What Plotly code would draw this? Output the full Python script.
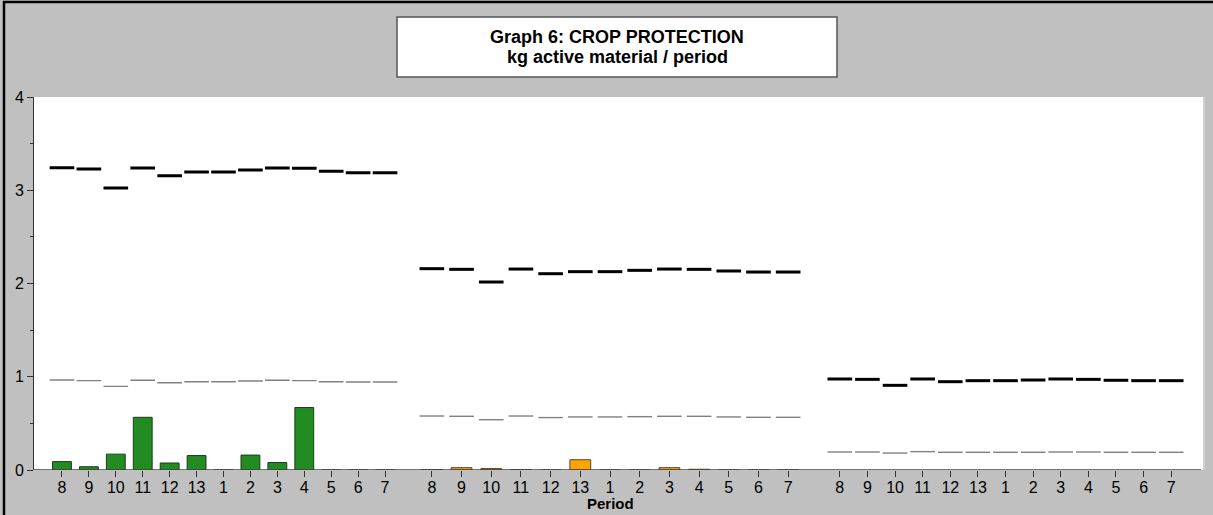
import plotly.graph_objects as go

periods = ["8", "9", "10", "11", "12", "13", "1", "2", "3", "4", "5", "6", "7"]

# Group 1
g1_black = [3.242, 3.228, 3.024, 3.239, 3.156, 3.196, 3.196, 3.217, 3.239, 3.235, 3.203, 3.188, 3.188]
g1_gray = [0.965, 0.958, 0.897, 0.962, 0.936, 0.947, 0.947, 0.954, 0.962, 0.958, 0.947, 0.944, 0.944]
g1_bars = [0.09, 0.035, 0.17, 0.565, 0.075, 0.155, 0.0, 0.16, 0.08, 0.67, 0.0, 0.0, 0.0]

# Group 2
g2_black = [2.159, 2.152, 2.016, 2.155, 2.105, 2.127, 2.127, 2.141, 2.155, 2.152, 2.134, 2.123, 2.123]
g2_gray = [0.579, 0.576, 0.539, 0.579, 0.562, 0.569, 0.569, 0.572, 0.576, 0.576, 0.569, 0.565, 0.565]
g2_bars = [0.005, 0.025, 0.015, 0.005, 0.0, 0.11, 0.0, 0.0, 0.025, 0.008, 0.0, 0.0, 0.0]

# Group 3
g3_black = [0.976, 0.972, 0.908, 0.976, 0.947, 0.958, 0.958, 0.965, 0.976, 0.972, 0.962, 0.958, 0.958]
g3_gray = [0.193, 0.193, 0.182, 0.197, 0.190, 0.190, 0.190, 0.190, 0.193, 0.193, 0.190, 0.190, 0.190]

y_ticks = [0, 1, 2, 3, 4]

FONT = "Liberation Sans, Arial, sans-serif"
W, H = 1213, 515
ML, MR, MT, MB = 33, 10, 97, 45
PW = W - ML - MR
PH = H - MT - MB


def px_x(p):
    return (p - ML) / PW


def px_y(p):
    return (H - MB - p) / PH


fig = go.Figure()

groups = [
    ("x", "y", g1_black, g1_gray, g1_bars, "#228b22", "#1e3a1e"),
    ("x2", "y2", g2_black, g2_gray, g2_bars, "#ffa500", "#5a4520"),
    ("x3", "y3", g3_black, g3_gray, None, None, None),
]

DASH = 17.6  # line-ew width = 1.4 * size

for xa, ya, blk, gry, bars, bc, blc in groups:
    if bars is not None:
        fig.add_trace(go.Bar(
            x=periods, y=bars, xaxis=xa, yaxis=ya,
            marker=dict(color=bc, line=dict(color=blc, width=1)),
            showlegend=False, hoverinfo="skip",
        ))
    fig.add_trace(go.Scatter(
        x=periods, y=gry, xaxis=xa, yaxis=ya, mode="markers",
        marker=dict(symbol="line-ew", size=DASH, color="#808080",
                    line=dict(color="#808080", width=1.4)),
        showlegend=False, hoverinfo="skip",
    ))
    fig.add_trace(go.Scatter(
        x=periods, y=blk, xaxis=xa, yaxis=ya, mode="markers",
        marker=dict(symbol="line-ew", size=DASH, color="black",
                    line=dict(color="black", width=3)),
        showlegend=False, hoverinfo="skip",
    ))

domains = [
    (px_x(48.5), px_x(398.5)),
    (px_x(417), px_x(803)),
    (px_x(826), px_x(1185)),
]

xcommon = dict(
    type="category", range=[-0.5, len(periods) - 0.5],
    showgrid=False, zeroline=False, showline=False,
    ticks="outside", ticklen=6, tickwidth=1, tickcolor="#333",
    ticklabelstandoff=-3,
    tickfont=dict(family=FONT, size=16, color="black"),
    fixedrange=True,
)

fig.update_layout(
    width=W, height=H,
    margin=dict(l=ML, r=MR, t=MT, b=MB, pad=0),
    paper_bgcolor="#c0c0c0",
    plot_bgcolor="white",
    bargap=0.3,
    showlegend=False,
    font=dict(family=FONT, size=16, color="black"),
    xaxis=dict(domain=domains[0], anchor="y", **xcommon),
    xaxis2=dict(domain=domains[1], anchor="y2", **xcommon),
    xaxis3=dict(domain=domains[2], anchor="y3", **xcommon),
    yaxis=dict(
        range=[0, 4], anchor="free", position=0, domain=[0, 1],
        tickvals=y_ticks, ticktext=[str(v) for v in y_ticks],
        ticks="outside", ticklen=6, tickwidth=1, tickcolor="#333",
        minor=dict(dtick=0.5, ticks="outside", ticklen=3, tickcolor="#333", showgrid=False),
        showline=True, linecolor="#333", linewidth=1,
        showgrid=False, zeroline=False,
        tickfont=dict(family=FONT, size=16, color="black"),
        fixedrange=True,
    ),
    yaxis2=dict(range=[0, 4], anchor="x2", domain=[0, 1], visible=False, fixedrange=True),
    yaxis3=dict(range=[0, 4], anchor="x3", domain=[0, 1], visible=False, fixedrange=True),
)

shapes = [
    # white plot area
    dict(type="rect", xref="paper", yref="paper", x0=0, x1=1, y0=0, y1=1,
         fillcolor="white", line=dict(width=0), layer="below"),
    # light edge at right of plot area
    dict(type="line", xref="paper", yref="paper", x0=px_x(1204), x1=px_x(1204),
         y0=0, y1=1, line=dict(color="#d6d6d6", width=1.5)),
    # baseline at 0
    dict(type="line", xref="paper", yref="y", x0=0, x1=px_x(1201), y0=0, y1=0,
         line=dict(color="#444", width=1.5)),
    # outer black frame top & left
    dict(type="line", xref="paper", yref="paper", x0=px_x(3), x1=px_x(1214),
         y0=px_y(2), y1=px_y(2), line=dict(color="black", width=2.5)),
    dict(type="line", xref="paper", yref="paper", x0=px_x(4), x1=px_x(4),
         y0=px_y(1), y1=px_y(516), line=dict(color="black", width=2.5)),
    # title box
    dict(type="rect", xref="paper", yref="paper",
         x0=px_x(397), x1=px_x(837), y0=px_y(77), y1=px_y(17),
         fillcolor="white", line=dict(color="#555", width=1.5)),
]
fig.update_layout(shapes=shapes)

cx = px_x(617)
fig.add_annotation(text="<b>Graph 6: CROP PROTECTION</b>", xref="paper", yref="paper",
                   x=cx, y=px_y(37), showarrow=False, xanchor="center", yanchor="middle",
                   font=dict(family=FONT, size=18, color="black"))
fig.add_annotation(text="<b>kg active material / period</b>", xref="paper", yref="paper",
                   x=cx, y=px_y(57), showarrow=False, xanchor="center", yanchor="middle",
                   font=dict(family=FONT, size=18, color="black"))
fig.add_annotation(text="<b>Period</b>", xref="paper", yref="paper",
                   x=(domains[1][0] + domains[1][1]) / 2, y=px_y(503), showarrow=False,
                   xanchor="center", yanchor="middle",
                   font=dict(family=FONT, size=15, color="black"))

fig.write_html(
    "out.html",
    config={"displayModeBar": False},
    post_script="document.body.style.margin='0';document.body.style.padding='0';"
                "document.documentElement.style.overflow='hidden';",
)
